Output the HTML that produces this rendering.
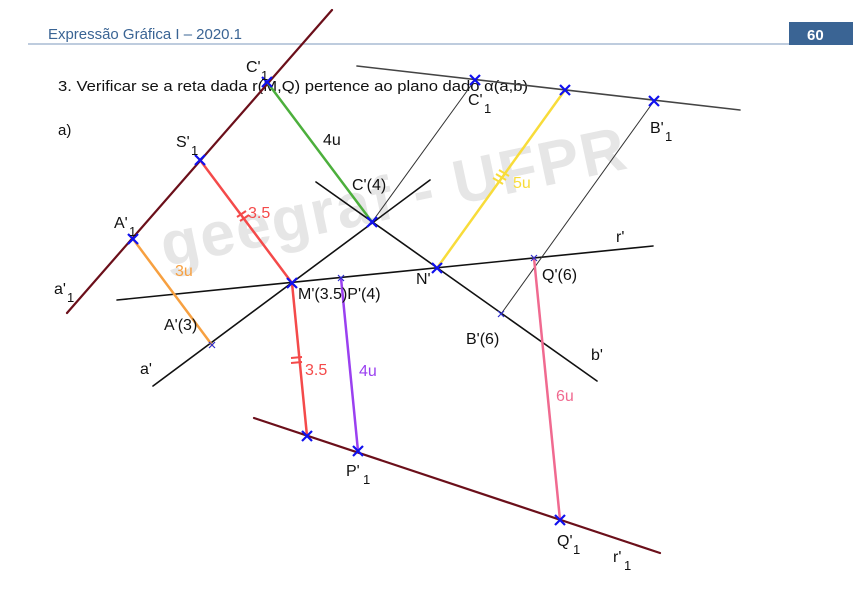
<!DOCTYPE html>
<html><head><meta charset="utf-8"><style>
html,body{margin:0;padding:0;background:#fff;}
svg{display:block;}
text{font-family:"Liberation Sans",sans-serif;}
</style></head><body>
<svg width="860" height="612" viewBox="0 0 860 612" xmlns="http://www.w3.org/2000/svg">
<defs>
<g id="X"><path d="M-5,-5L5,5M-5,5L5,-5" stroke="#1010ee" stroke-width="2.2"/></g>
<g id="x"><path d="M-3,-3L3,3M-3,3L3,-3" stroke="#3030cc" stroke-width="1.2"/></g>
</defs>
<!-- header -->
<text x="48" y="39" font-size="15" fill="#3a6494" font-family="Liberation Sans Narrow, Liberation Sans, sans-serif" textLength="194" lengthAdjust="spacingAndGlyphs">Expressão Gráfica I – 2020.1</text>
<line x1="28" y1="44" x2="790" y2="44" stroke="#a8bcd4" stroke-width="1.5"/>
<rect x="789" y="22" width="64" height="23" fill="#3a6494"/>
<text x="807" y="40" font-size="15" font-weight="bold" fill="#fff">60</text>
<!-- watermark -->
<text x="150" y="220" font-size="62" font-weight="bold" fill="#e6e6e6" transform="rotate(-12 380 170)" letter-spacing="2">geegraf - UFPR</text>
<text x="58" y="91" font-size="15" fill="#111" font-family="Liberation Sans Narrow, Liberation Sans, sans-serif" textLength="470" lengthAdjust="spacingAndGlyphs">3. Verificar se a reta dada r(M,Q) pertence ao plano dado α(a,b)</text>
<text x="58" y="135" font-size="15" fill="#111">a)</text>
<!-- main lines -->
<g stroke-linecap="round">
<line x1="332" y1="10" x2="67" y2="313" stroke="#6b0f1a" stroke-width="2.2"/>
<line x1="254" y1="418" x2="660" y2="553" stroke="#6b0f1a" stroke-width="2.2"/>
<line x1="357" y1="66" x2="740" y2="110" stroke="#444" stroke-width="1.6"/>
<line x1="153" y1="386" x2="430" y2="180" stroke="#111" stroke-width="1.6"/>
<line x1="316" y1="182" x2="597" y2="381" stroke="#111" stroke-width="1.6"/>
<line x1="117" y1="300" x2="653" y2="246" stroke="#111" stroke-width="1.6"/>
<line x1="475" y1="80" x2="372" y2="222" stroke="#333" stroke-width="1"/>
<line x1="654" y1="101" x2="501" y2="314" stroke="#333" stroke-width="1"/>
<line x1="267" y1="82" x2="372" y2="222" stroke="#4caf3c" stroke-width="2.5"/>
<line x1="200" y1="160" x2="292" y2="283" stroke="#f44a4a" stroke-width="2.5"/>
<line x1="292" y1="283" x2="307" y2="436" stroke="#f44a4a" stroke-width="2.5"/>
<line x1="133" y1="239" x2="212" y2="345" stroke="#f7a040" stroke-width="2.5"/>
<line x1="437" y1="268" x2="565" y2="90" stroke="#f8dc3a" stroke-width="2.5"/>
<line x1="341" y1="278" x2="358" y2="451" stroke="#9a40f0" stroke-width="2.5"/>
<line x1="534" y1="258" x2="560" y2="520" stroke="#f06a90" stroke-width="2.5"/>
</g>
<!-- tick marks -->
<g stroke="#f44a4a" stroke-width="2">
<line x1="237" y1="217" x2="246" y2="211"/><line x1="240" y1="221" x2="249" y2="215"/>
<line x1="291" y1="358" x2="302" y2="357"/><line x1="291" y1="363" x2="302" y2="362"/>
</g>
<g stroke="#f8dc3a" stroke-width="2">
<line x1="493" y1="178" x2="503" y2="184"/><line x1="496" y1="174" x2="506" y2="180"/><line x1="499" y1="170" x2="509" y2="176"/>
</g>
<!-- markers -->
<use href="#X" x="267" y="82"/><use href="#X" x="475" y="80"/><use href="#X" x="565" y="90"/><use href="#X" x="654" y="101"/>
<use href="#X" x="200" y="160"/><use href="#X" x="133" y="239"/><use href="#X" x="372" y="222"/><use href="#X" x="292" y="283"/>
<use href="#X" x="437" y="268"/><use href="#X" x="307" y="436"/><use href="#X" x="358" y="451"/><use href="#X" x="560" y="520"/>
<use href="#x" x="341" y="278"/><use href="#x" x="534" y="258"/><use href="#x" x="212" y="345"/><use href="#x" x="501" y="314"/>
<!-- labels -->
<g font-size="16" fill="#111">
<text x="246" y="72">C'</text><text x="261" y="80" font-size="13">1</text>
<text x="468" y="105">C'</text><text x="484" y="113" font-size="13">1</text>
<text x="650" y="133">B'</text><text x="665" y="141" font-size="13">1</text>
<text x="176" y="147">S'</text><text x="191" y="155" font-size="13">1</text>
<text x="114" y="228">A'</text><text x="129" y="236" font-size="13">1</text>
<text x="54" y="294">a'</text><text x="67" y="302" font-size="13">1</text>
<text x="323" y="145">4u</text>
<text x="352" y="190">C'(4)</text>
<text x="616" y="242">r'</text>
<text x="416" y="284">N'</text>
<text x="542" y="280">Q'(6)</text>
<text x="298" y="299">M'(3.5)P'(4)</text>
<text x="164" y="330">A'(3)</text>
<text x="466" y="344">B'(6)</text>
<text x="140" y="374">a'</text>
<text x="591" y="360">b'</text>
<text x="346" y="476">P'</text><text x="363" y="484" font-size="13">1</text>
<text x="557" y="546">Q'</text><text x="573" y="554" font-size="13">1</text>
<text x="613" y="562">r'</text><text x="624" y="570" font-size="13">1</text>
</g>
<text x="175" y="276" font-size="16" fill="#f7a040">3u</text>
<text x="248" y="218" font-size="16" fill="#f44a4a">3.5</text>
<text x="305" y="375" font-size="16" fill="#f44a4a">3.5</text>
<text x="359" y="376" font-size="16" fill="#9a40f0">4u</text>
<text x="513" y="188" font-size="16" fill="#f8dc3a">5u</text>
<text x="556" y="401" font-size="16" fill="#f06a90">6u</text>
</svg>
</body></html>
